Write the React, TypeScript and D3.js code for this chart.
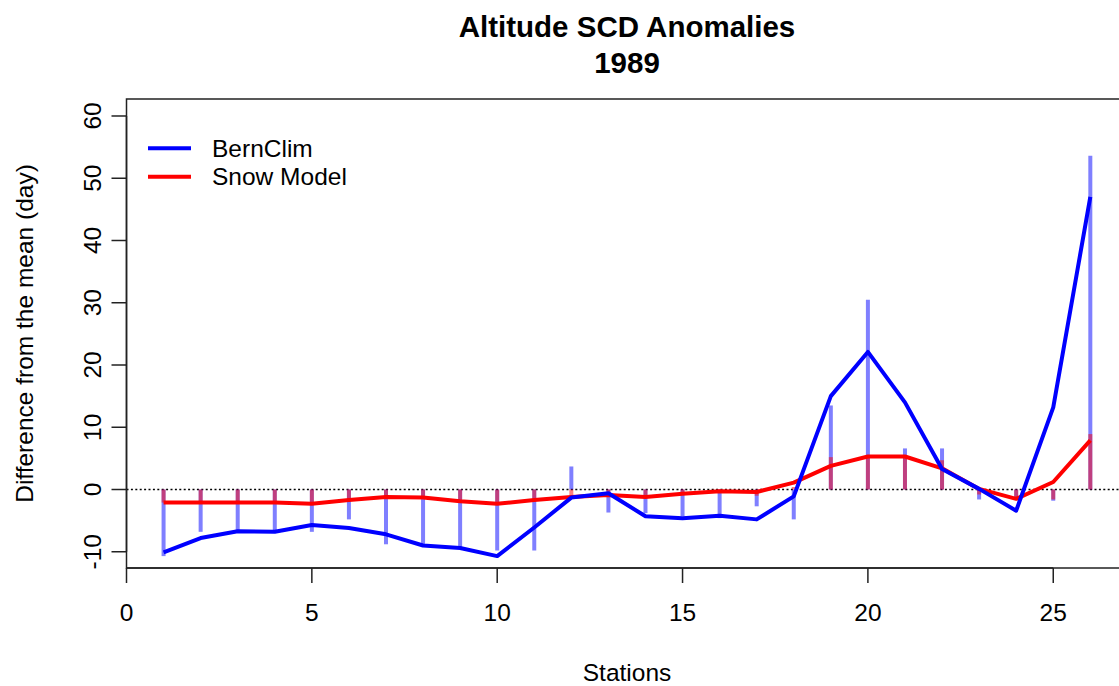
import React from "react";
import * as d3 from "d3";

// Station index 1..26
const stations: number[] = d3.range(1, 27);

// Per-station anomalies (days) drawn as vertical bars
const bernClimBars: number[] = [
  -10.7, -6.8, -6.6, -6.6, -6.8, -4.8, -8.8, -9.0, -9.4, -9.8,
  -9.8, 3.7, -3.7, -3.8, -4.3, -4.6, -2.7, -4.8, 13.5, 30.5,
  6.6, 6.6, -1.6, -1.2, -1.8, 53.6,
];
const snowModelBars: number[] = [
  -2.1, -2.0, -2.1, -2.1, -2.2, -1.7, -1.3, -1.3, -1.9, -2.3,
  -1.8, -1.0, -0.8, -1.2, -0.5, -0.3, -1.0, 0.4, 5.2, 5.5,
  5.3, 4.7, -0.8, -1.3, -1.6, 8.9,
];

// Smoothed anomaly curves
const bernClimLine: number[] = [
  -10.1, -7.8, -6.7, -6.8, -5.7, -6.2, -7.2, -9.0, -9.4, -10.7,
  -6.1, -1.3, -0.6, -4.3, -4.6, -4.2, -4.8, -1.1, 15.0, 22.1,
  14.0, 3.3, 0.1, -3.4, 13.2, 47.0,
];
const snowModelLine: number[] = [
  -2.1, -2.1, -2.1, -2.1, -2.3, -1.7, -1.2, -1.3, -1.9, -2.3,
  -1.7, -1.2, -0.9, -1.2, -0.7, -0.3, -0.4, 1.1, 3.8, 5.3,
  5.3, 3.4, 0.1, -1.5, 1.2, 7.9,
];

const xTicks: number[] = [0, 5, 10, 15, 20, 25];
const yTicks: number[] = [-10, 0, 10, 20, 30, 40, 50, 60];

const legendItems: { label: string; color: string }[] = [
  { label: "BernClim", color: "#0000FF" },
  { label: "Snow Model", color: "#FF0000" },
];

const W = 1119;
const H = 686;
const FONT = "'Liberation Sans', Arial, Helvetica, sans-serif";

export default function App() {
  const left = 126.5;
  const right = 1128.5;
  const top = 99;
  const bottom = 568;

  const x = d3.scaleLinear().domain([0, 27.03]).range([left, right]);
  const y = d3.scaleLinear().domain([-12.61, 62.73]).range([bottom, top]);

  const lineGen = d3
    .line<number>()
    .x((_, i) => x(stations[i]))
    .y((d) => y(d));

  const tickLen = 15;
  const fs = 24.5;

  return (
    <svg
      width={W}
      height={H}
      style={{ position: "absolute", left: 0, top: 0, background: "#fff" }}
      fontFamily={FONT}
    >
      <rect x={0} y={0} width={W} height={H} fill="#fff" />

      {/* title */}
      <text x={627} y={37} textAnchor="middle" fontSize={29.5} fontWeight="bold" fill="#000">
        Altitude SCD Anomalies
      </text>
      <text x={627} y={73} textAnchor="middle" fontSize={29.5} fontWeight="bold" fill="#000">
        1989
      </text>

      {/* zero reference */}
      <line
        x1={left}
        x2={right}
        y1={y(0)}
        y2={y(0)}
        stroke="#000"
        strokeWidth={1.5}
        strokeDasharray="2,2.4"
      />

      {/* BernClim bars */}
      {stations.map((s, i) => (
        <line
          key={"bb" + s}
          x1={x(s)}
          x2={x(s)}
          y1={y(0)}
          y2={y(bernClimBars[i])}
          stroke="rgba(0,0,255,0.5)"
          strokeWidth={4}
        />
      ))}
      {/* Snow Model bars */}
      {stations.map((s, i) => (
        <line
          key={"sb" + s}
          x1={x(s)}
          x2={x(s)}
          y1={y(0)}
          y2={y(snowModelBars[i])}
          stroke="rgba(255,0,0,0.5)"
          strokeWidth={4}
        />
      ))}

      {/* curves */}
      <path d={lineGen(snowModelLine) ?? ""} fill="none" stroke="#FF0000" strokeWidth={4} strokeLinejoin="round" />
      <path d={lineGen(bernClimLine) ?? ""} fill="none" stroke="#0000FF" strokeWidth={4} strokeLinejoin="round" />

      {/* plot frame */}
      <rect
        x={left}
        y={top}
        width={right - left}
        height={bottom - top}
        fill="none"
        stroke="#222"
        strokeWidth={1.5}
      />

      {/* x axis */}
      <line x1={x(0)} x2={x(25)} y1={bottom} y2={bottom} stroke="#222" strokeWidth={1.5} />
      {xTicks.map((t) => (
        <g key={"xt" + t}>
          <line x1={x(t)} x2={x(t)} y1={bottom} y2={bottom + tickLen} stroke="#222" strokeWidth={1.5} />
          <text x={x(t)} y={621} textAnchor="middle" fontSize={fs} fill="#000">
            {t}
          </text>
        </g>
      ))}
      <text x={627} y={681} textAnchor="middle" fontSize={fs} fill="#000">
        Stations
      </text>

      {/* y axis */}
      <line x1={left} x2={left} y1={y(-10)} y2={y(60)} stroke="#222" strokeWidth={1.5} />
      {yTicks.map((t) => (
        <g key={"yt" + t}>
          <line x1={left - tickLen} x2={left} y1={y(t)} y2={y(t)} stroke="#222" strokeWidth={1.5} />
          <text
            transform={`translate(101,${y(t)}) rotate(-90)`}
            textAnchor="middle"
            fontSize={fs}
            fill="#000"
          >
            {t}
          </text>
        </g>
      ))}
      <text
        transform={`translate(33,${(top + bottom) / 2}) rotate(-90)`}
        textAnchor="middle"
        fontSize={fs}
        fill="#000"
      >
        Difference from the mean (day)
      </text>

      {/* legend */}
      {legendItems.map((item, i) => {
        const ly = 148.3 + i * 28.4;
        return (
          <g key={item.label}>
            <line x1={148} x2={191} y1={ly} y2={ly} stroke={item.color} strokeWidth={4} />
            <text x={212} y={ly + 8.7} fontSize={fs} fill="#000">
              {item.label}
            </text>
          </g>
        );
      })}
    </svg>
  );
}
